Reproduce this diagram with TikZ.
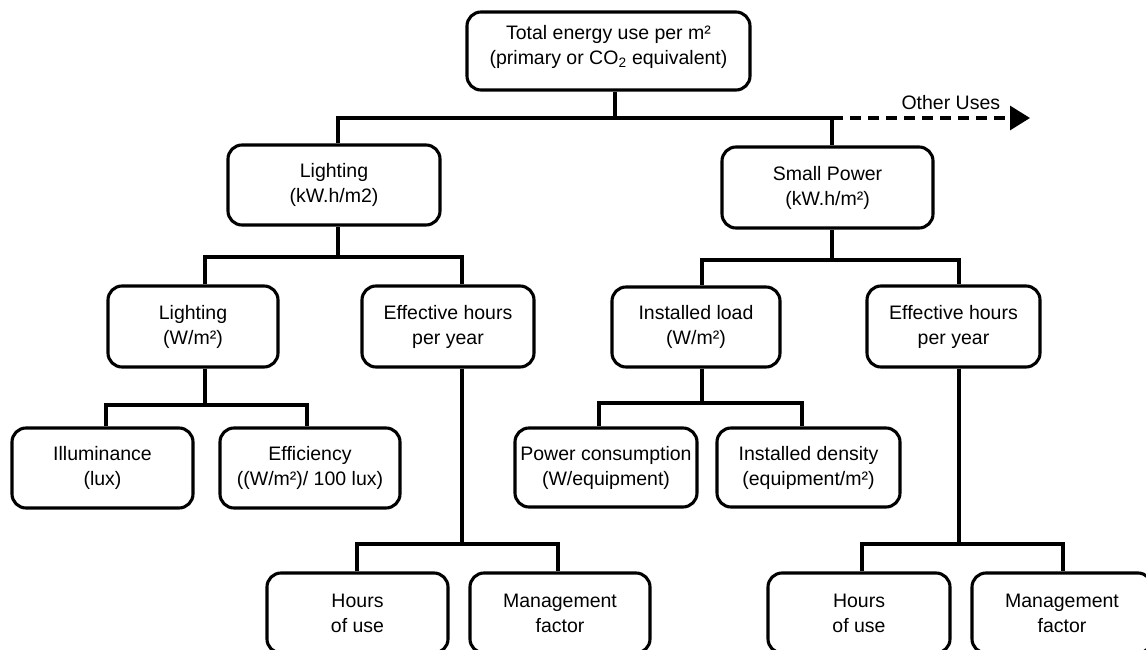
\documentclass[tikz,border=0pt]{standalone}
\usepackage{fontspec}
\setmainfont{Liberation Sans}
\usetikzlibrary{arrows.meta}
\tikzset{
  box/.style={draw, rounded corners=14pt, line width=3.1pt, align=center,
    inner sep=0pt, minimum height=80pt, font=\fontsize{19.5}{25}\selectfont},
  link/.style={line width=3.1pt}
}
\begin{document}
\begin{tikzpicture}[x=1pt, y=-1pt]
        \useasboundingbox (0,0) rectangle (1146,650);
        \clip (0,0) rectangle (1146,650);

        % Top level
        \node[box, minimum width=283pt, minimum height=78pt, text depth=12pt] (total) at (608.5,51)
            {Total energy use per m²\\(primary or CO\textsubscript{2} equivalent)};

        % Second level
        \node[box, minimum width=212pt] (lightkwh) at (334,185) {Lighting\\(kW.h/m2)};
        \node[box, minimum width=211pt, minimum height=81pt] (smallpow) at (827.5,187.5) {Small Power\\(kW.h/m²)};

        % Third level
        \node[box, minimum width=170pt, minimum height=81pt] (lightw) at (193,326.5) {Lighting\\(W/m²)};
        \node[box, minimum width=172pt, minimum height=81pt] (effhl) at (448,326.5) {Effective hours\\per year};
        \node[box, minimum width=168pt] (instload) at (696,327) {Installed load\\(W/m²)};
        \node[box, minimum width=173pt, minimum height=81pt] (effhr) at (953.5,326.5) {Effective hours\\per year};

        % Fourth level
        \node[box, minimum width=181pt] (illum) at (102.5,468) {Illuminance\\(lux)};
        \node[box, minimum width=180pt] (effic) at (310,468) {Efficiency\\((W/m²)/ 100 lux)};
        \node[box, minimum width=182pt, minimum height=79pt] (powcons) at (606,467.5) {Power consumption\\(W/equipment)};
        \node[box, minimum width=183pt, minimum height=79pt] (instdens) at (808.5,467.5) {Installed density\\(equipment/m²)};

        % Bottom level
        \node[box, minimum width=181pt] (hoursl) at (357.5,613) {Hours\\of use};
        \node[box, minimum width=180pt] (mgmtl) at (560,613) {Management\\factor};
        \node[box, minimum width=182pt] (hoursr) at (859,613) {Hours\\of use};
        \node[box, minimum width=180pt] (mgmtr) at (1062,613) {Management\\factor};

        % Junctions
        \coordinate (j1) at (615,118);
        \coordinate (j2) at (338,257);
        \coordinate (j3) at (832,260);
        \coordinate (j4) at (205,405);
        \coordinate (j5) at (462,544);
        \coordinate (j6) at (702,403);
        \coordinate (j7) at (959,544);
        \coordinate (other) at (1030,118);

        % Connectors
        \draw[link] ([xshift=6.5pt]total.south) -- (j1);
        \draw[link] ([xshift=4pt]lightkwh.north) |- (j1) -| ([xshift=4.5pt]smallpow.north);
        \draw[link, dash pattern=on 11pt off 7pt, -{Triangle[length=20pt,width=24pt]}]
            (j1 -| j3) -- (other) node[pos=0.6, above=3pt, font=\fontsize{19.5}{25}\selectfont] {Other Uses};

        \draw[link] ([xshift=4pt]lightkwh.south) -- (j2);
        \draw[link] ([xshift=12pt]lightw.north) |- (j2) -| ([xshift=14pt]effhl.north);

        \draw[link] ([xshift=4.5pt]smallpow.south) -- (j3);
        \draw[link] ([xshift=6pt]instload.north) |- (j3) -| ([xshift=5.5pt]effhr.north);

        \draw[link] ([xshift=12pt]lightw.south) -- (j4);
        \draw[link] ([xshift=3.5pt]illum.north) |- (j4) -| ([xshift=-3pt]effic.north);

        \draw[link] ([xshift=6pt]instload.south) -- (j6);
        \draw[link] ([xshift=-7pt]powcons.north) |- (j6) -| ([xshift=-6.5pt]instdens.north);

        \draw[link] ([xshift=14pt]effhl.south) -- (j5);
        \draw[link] ([xshift=-0.5pt]hoursl.north) |- (j5) -| ([xshift=-2pt]mgmtl.north);

        \draw[link] ([xshift=5.5pt]effhr.south) -- (j7);
        \draw[link] ([xshift=3pt]hoursr.north) |- (j7) -| ([xshift=1pt]mgmtr.north);
\end{tikzpicture}
\end{document}
